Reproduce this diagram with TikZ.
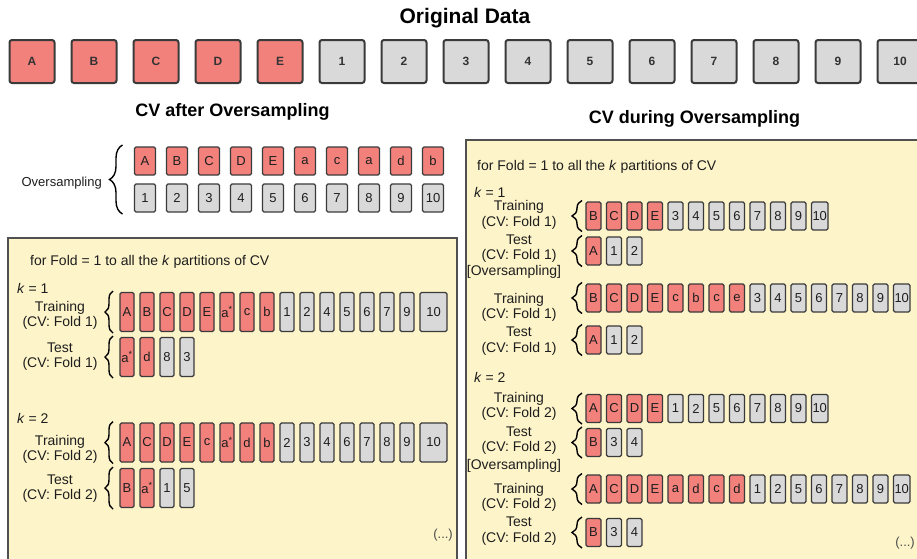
\documentclass[tikz,border=0pt]{standalone}
\usepackage{fontspec}
\setmainfont{Liberation Sans}
\usetikzlibrary{decorations.pathreplacing}
\definecolor{redf}{HTML}{F2817C}
\definecolor{grayf}{HTML}{D9D9D9}
\definecolor{edge}{HTML}{3A3A3A}
\definecolor{panel}{HTML}{FDF4C9}
\definecolor{panelb}{HTML}{505050}
\definecolor{txt}{HTML}{1E1E1E}
\tikzset{
  cell/.style={draw=edge, line width=1.3pt, rounded corners=1.5pt, inner sep=1pt, outer sep=0pt,
    text=txt, font=\fontsize{13}{13}\selectfont},
  topcell/.style={draw=edge, line width=2pt, rounded corners=2.5pt, inner sep=0pt, outer sep=0pt,
    minimum width=45pt, minimum height=43pt, text=black!80, font=\bfseries\fontsize{12}{12}\selectfont},
  title/.style={inner sep=0pt, font=\bfseries\fontsize{#1}{#1}\selectfont, text=black},
  lab/.style={inner sep=0pt, align=center, text=txt, font=\fontsize{14}{15.5}\selectfont},
  plain/.style={inner sep=0pt, text=txt, font=\fontsize{14}{15.5}\selectfont},
  dots/.style={inner sep=0pt, text=black!70, font=\fontsize{13}{13}\selectfont},
  panelbox/.style={fill=panel, draw=panelb, line width=1.6pt},
  brace/.style={decorate, decoration={brace, amplitude=#1}, line width=1.4pt, draw=black},
}
% #1 name, #2 x (west), #3 y (centre), #4 height, #5 min width, #6 gap, #7 list
\newcommand\cellrow[7]{%
  \foreach \c/\l [count=\i, remember=\i as \p (initially 0)] in {#7} {%
    \def\fc{grayf}\def\mw{#5}%
    \if r\c\def\fc{redf}\fi
    \if w\c\def\mw{27pt}\fi
    \ifnum\i=1
      \coordinate (tmp) at (#2,#3);
    \else
      \coordinate (tmp) at ([xshift=#6]#1-\p.east);
    \fi
    \node[cell, fill=\fc, minimum height=#4, minimum width=\mw, anchor=west] (#1-\i) at (tmp) {\l};
  }%
}
\newcommand\rowbrace[3]{% #1 row node, #2 xshift, #3 amplitude
  \draw[brace=#3] ([xshift=-#2,yshift=-1.5pt]#1.south west) -- ([xshift=-#2,yshift=1.5pt]#1.north west);
}
\begin{document}
\begin{tikzpicture}[x=1pt,y=-1pt]
\useasboundingbox (0,0) rectangle (917,558);
\clip (0,0) rectangle (917,558);
\fill[white] (0,0) rectangle (917,558);

% ---------- Original data ----------
\node[title=21] (otitle) at (465,18) {Original Data};
\foreach \l [count=\i] in {A,B,C,D,E}
  \node[topcell, fill=redf] (o\i) at ({32+62*(\i-1)},61.5) {\l};
\foreach \l [count=\i from 6] in {1,...,10}
  \node[topcell, fill=grayf] (o\i) at ({32+62*(\i-1)},61.5) {\l};

% ---------- CV after oversampling ----------
\node[title=18] (atitle) at (232.5,112) {CV after Oversampling};
\cellrow{ovr}{134.5}{161}{28pt}{21pt}{11pt}{r/A,r/B,r/C,r/D,r/E,r/a,r/c,r/a,r/d,r/b}
\cellrow{ovg}{134.5}{198}{28pt}{21pt}{11pt}{g/1,g/2,g/3,g/4,g/5,g/6,g/7,g/8,g/9,g/10}
\draw[brace=13pt] ([xshift=-12pt,yshift=-2pt]ovg-1.south west) -- ([xshift=-12pt,yshift=2pt]ovr-1.north west);
\node[inner sep=0pt, text=txt, font=\fontsize{13}{13}\selectfont, anchor=east] (ovlab) at (102,183) {Oversampling};

\draw[panelbox] (8,238) rectangle (457,575);
\node[plain, anchor=west] (lfor) at (30,262) {for Fold = 1 to all the \textit{k} partitions of CV};
\node[plain, anchor=west] (lk1) at (17,288) {\textit{k} = 1};
\cellrow{ltr1}{120}{312}{39pt}{14pt}{6pt}{r/A,r/B,r/C,r/D,r/E,r/a\textsuperscript{*},r/c,r/b,g/1,g/2,g/4,g/5,g/6,g/7,g/9,w/10}
\rowbrace{ltr1-1}{7pt}{8pt}
\node[lab] (lltr1) at (60,315.5) {Training\\(CV: Fold 1)};
\cellrow{lte1}{120}{357}{39pt}{14pt}{6pt}{r/a\textsuperscript{*},r/d,g/8,g/3}
\rowbrace{lte1-1}{7pt}{8pt}
\node[lab] (llte1) at (60,356.5) {Test\\(CV: Fold 1)};

\node[plain, anchor=west] (lk2) at (17,418) {\textit{k} = 2};
\cellrow{ltr2}{120}{442.5}{39pt}{14pt}{6pt}{r/A,r/C,r/D,r/E,r/c,r/a\textsuperscript{*},r/d,r/b,g/2,g/3,g/4,g/6,g/7,g/8,g/9,w/10}
\rowbrace{ltr2-1}{7pt}{8pt}
\node[lab] (lltr2) at (60,449.5) {Training\\(CV: Fold 2)};
\cellrow{lte2}{120}{488}{39pt}{14pt}{6pt}{r/B,r/a\textsuperscript{*},g/1,g/5}
\rowbrace{lte2-1}{7pt}{8pt}
\node[lab] (llte2) at (60,488.5) {Test\\(CV: Fold 2)};
\node[dots, anchor=east] (ldots) at (453,535) {(...)};

% ---------- CV during oversampling ----------
\node[title=18] (dtitle) at (694.5,119) {CV during Oversampling};
\draw[panelbox] (466,140) rectangle (935,575);
\node[plain, anchor=west] (rfor) at (477,167) {for Fold = 1 to all the \textit{k} partitions of CV};
\node[plain, anchor=west] (rk1) at (474,192) {\textit{k} = 1};
\cellrow{rtr1}{586}{216}{28pt}{15pt}{5.5pt}{r/B,r/C,r/D,r/E,g/3,g/4,g/5,g/6,g/7,g/8,g/9,g/10}
\rowbrace{rtr1-1}{4pt}{10pt}
\node[lab] (lrtr1) at (519,215) {Training\\(CV: Fold 1)};
\cellrow{rte1}{586}{251}{28pt}{15pt}{5.5pt}{r/A,g/1,g/2}
\rowbrace{rte1-1}{4pt}{10pt}
\node[lab] (lrte1) at (519,248.5) {Test\\(CV: Fold 1)};
\node[plain] (ros1) at (514,272) {[Oversampling]};
\cellrow{ros1}{586}{298}{28pt}{15pt}{5.5pt}{r/B,r/C,r/D,r/E,r/c,r/b,r/c,r/e,g/3,g/4,g/5,g/6,g/7,g/8,g/9,g/10}
\rowbrace{ros1-1}{4pt}{10pt}
\node[lab] (lros1) at (519,307.5) {Training\\(CV: Fold 1)};
\cellrow{rost1}{586}{340}{28pt}{15pt}{5.5pt}{r/A,g/1,g/2}
\rowbrace{rost1-1}{4pt}{10pt}
\node[lab] (lrost1) at (519,341) {Test\\(CV: Fold 1)};

\node[plain, anchor=west] (rk2) at (474,377) {\textit{k} = 2};
\cellrow{rtr2}{586}{408.5}{28pt}{15pt}{5.5pt}{r/A,r/C,r/D,r/E,g/1,g/2,g/5,g/6,g/7,g/8,g/9,g/10}
\rowbrace{rtr2-1}{4pt}{10pt}
\node[lab] (lrtr2) at (519,406.5) {Training\\(CV: Fold 2)};
\cellrow{rte2}{586}{442.5}{28pt}{15pt}{5.5pt}{r/B,g/3,g/4}
\rowbrace{rte2-1}{4pt}{10pt}
\node[lab] (lrte2) at (519,440.5) {Test\\(CV: Fold 2)};
\node[plain] (ros2) at (514,466) {[Oversampling]};
\cellrow{ros2}{586}{489}{28pt}{15pt}{5.5pt}{r/A,r/C,r/D,r/E,r/a,r/d,r/c,r/d,g/1,g/2,g/5,g/6,g/7,g/8,g/9,g/10}
\rowbrace{ros2-1}{4pt}{10pt}
\node[lab] (lros2) at (519,497.5) {Training\\(CV: Fold 2)};
\cellrow{rost2}{586}{532.5}{28pt}{15pt}{5.5pt}{r/B,g/3,g/4}
\rowbrace{rost2-1}{4pt}{10pt}
\node[lab] (lrost2) at (519,531) {Test\\(CV: Fold 2)};
\node[dots, anchor=east] (rdots) at (915,543) {(...)};
\end{tikzpicture}
\end{document}
